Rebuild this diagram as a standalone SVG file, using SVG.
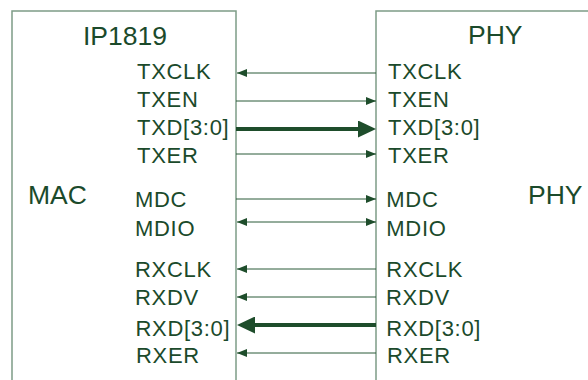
<svg xmlns="http://www.w3.org/2000/svg" width="588" height="380" viewBox="0 0 588 380">
<style>
.box{fill:#ffffff;stroke:#7d9c87;stroke-width:1.5}
.t{font-family:"Liberation Sans",Arial,sans-serif;fill:#1b4a2b}
.big{font-size:26.5px}
.sig{font-size:22px;letter-spacing:0.7px}
.w{stroke:#2a5a38;stroke-width:1;fill:none}
.k{stroke:#1e4d2b;stroke-width:4;fill:none}
</style>
<defs>
<marker id="a" markerUnits="userSpaceOnUse" markerWidth="10" markerHeight="8" refX="10" refY="4" orient="auto-start-reverse">
<path d="M0,0 L10,4 L0,8 z" fill="#1e4d2b"/>
</marker>
<marker id="A" markerUnits="userSpaceOnUse" markerWidth="18" markerHeight="17" refX="4" refY="8.5" orient="auto">
<path d="M0,0 L18,8.5 L0,17 z" fill="#1e4d2b"/>
</marker>
</defs>
<rect width="588" height="380" fill="#ffffff"/>
<g id="mac">
<rect class="box" x="12" y="11" width="224" height="400"/>
<text class="t big" x="83" y="45">IP1819</text>
<text class="t big" x="28" y="204">MAC</text>
<text class="t sig" x="137" y="78.5">TXCLK</text>
<text class="t sig" x="137" y="106.5">TXEN</text>
<text class="t sig" x="137" y="135">TXD[3:0]</text>
<text class="t sig" x="137" y="162.5">TXER</text>
<text class="t sig" x="135" y="207">MDC</text>
<text class="t sig" x="135" y="235.5">MDIO</text>
<text class="t sig" x="135" y="277">RXCLK</text>
<text class="t sig" x="135" y="305">RXDV</text>
<text class="t sig" x="135.5" y="335.5">RXD[3:0]</text>
<text class="t sig" x="136" y="363">RXER</text>
</g>
<g id="phy">
<rect class="box" x="376" y="11" width="300" height="400"/>
<text class="t big" x="468" y="44">PHY</text>
<text class="t big" x="528" y="204">PHY</text>
<text class="t sig" x="388" y="78.5">TXCLK</text>
<text class="t sig" x="388" y="106.5">TXEN</text>
<text class="t sig" x="388" y="135">TXD[3:0]</text>
<text class="t sig" x="388" y="162.5">TXER</text>
<text class="t sig" x="386.3" y="207">MDC</text>
<text class="t sig" x="386.3" y="235.5">MDIO</text>
<text class="t sig" x="386.3" y="277">RXCLK</text>
<text class="t sig" x="386" y="305">RXDV</text>
<text class="t sig" x="386.3" y="335.5">RXD[3:0]</text>
<text class="t sig" x="387" y="362.5">RXER</text>
</g>
<g id="connectors">
<line class="w" x1="376" y1="73" x2="237" y2="73" marker-end="url(#a)"/>
<line class="w" x1="236" y1="101" x2="376" y2="101" marker-end="url(#a)"/>
<line class="k" x1="236" y1="129" x2="362" y2="129" marker-end="url(#A)"/>
<line class="w" x1="236" y1="154" x2="376" y2="154" marker-end="url(#a)"/>
<line class="w" x1="236" y1="199" x2="376" y2="199" marker-end="url(#a)"/>
<line class="w" x1="237" y1="222" x2="376" y2="222" marker-start="url(#a)" marker-end="url(#a)"/>
<line class="w" x1="376" y1="269" x2="237" y2="269" marker-end="url(#a)"/>
<line class="w" x1="376" y1="297" x2="237" y2="297" marker-end="url(#a)"/>
<line class="k" x1="376" y1="325" x2="251" y2="325" marker-end="url(#A)"/>
<line class="w" x1="376" y1="353" x2="237" y2="353" marker-end="url(#a)"/>
</g>
</svg>
